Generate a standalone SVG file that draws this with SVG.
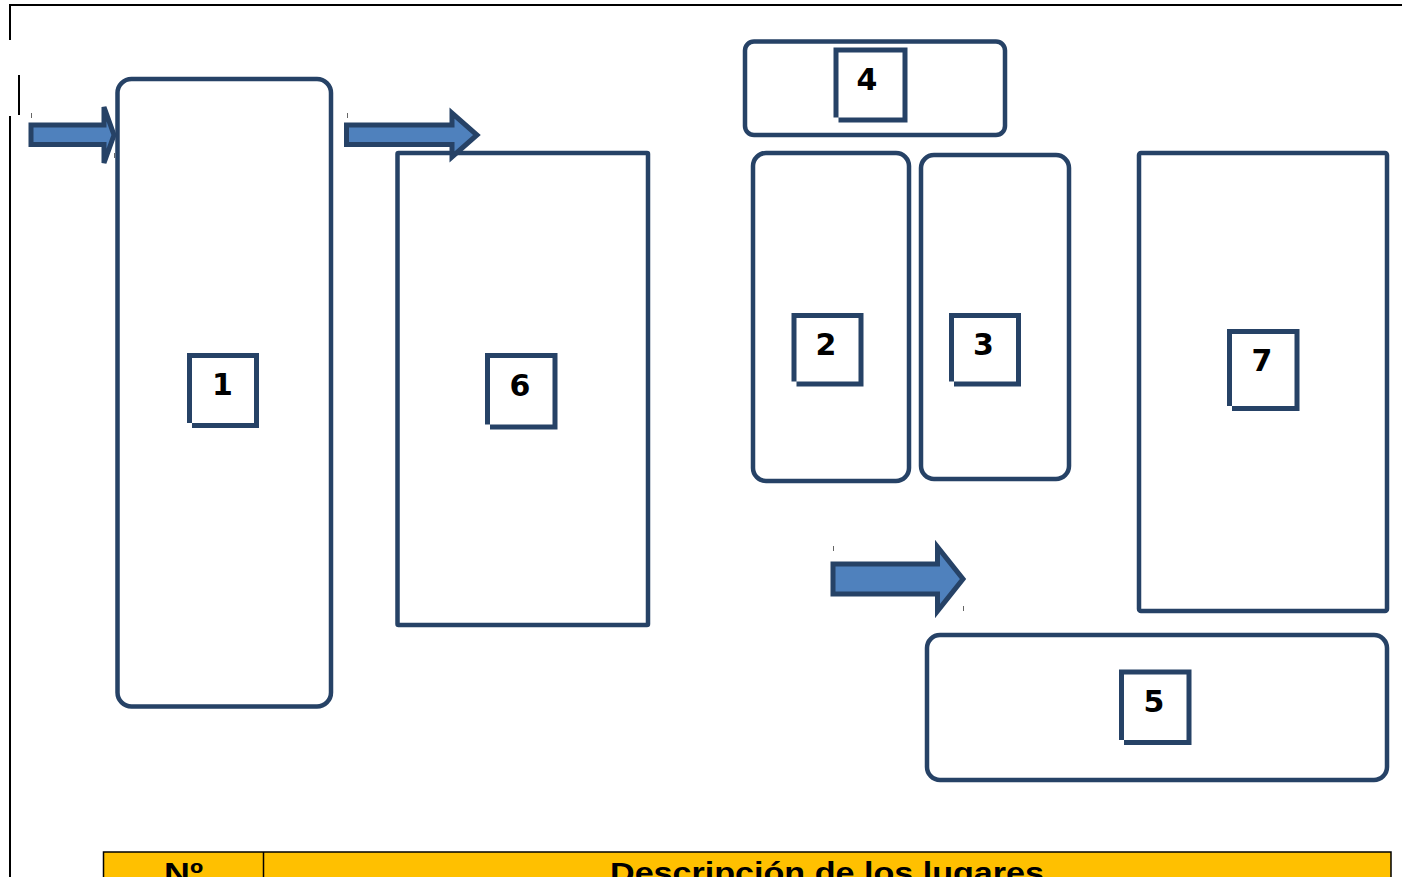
<svg xmlns="http://www.w3.org/2000/svg" width="1402" height="877" viewBox="0 0 1402 877">
<style>
.box{fill:#fff;stroke:#264266;stroke-width:4.5}
.num{fill:none;stroke:#264266;stroke-width:5;stroke-linejoin:miter;stroke-linecap:butt}
.lbl{font-family:"DejaVu Sans",sans-serif;font-weight:bold;font-size:30px;fill:#000;text-anchor:middle}
.arr{fill:#4F81BD;stroke:#264266;stroke-width:5;stroke-linejoin:miter}
.frame{stroke:#000;stroke-width:2;fill:none}
.tick{stroke:#666;stroke-width:1}
.th{font-family:"Liberation Sans",Arial,sans-serif;font-weight:bold;font-size:29px;fill:#000;text-anchor:middle}
</style>
<rect width="1402" height="877" fill="#fff"/>
<g id="frame">
<path class="frame" d="M9,5 H1402 M10,4 V40 M19,75 V115 M10,116 V877"/>
</g>
<g id="ticks">
<path class="tick" d="M31.5,113 V118 M347.5,113 V118 M114.5,153 V158 M477.5,154 V158 M833.5,546 V551 M963.5,606 V611"/>
</g>
<g id="node1">
<rect class="box" x="117.5" y="79" width="213.5" height="627.5" rx="14"/>
<path class="num" d="M189.5,423 V355.5 H256.5 V425.5 H192"/>
<text class="lbl" x="222.5" y="395">1</text>
</g>
<g id="node6">
<rect class="box" x="397.5" y="153" width="250.5" height="472" rx="1"/>
<path class="num" d="M487.5,424.5 V355.5 H555 V427 H490"/>
<text class="lbl" x="520" y="395.5">6</text>
</g>
<g id="node4">
<rect class="box" x="745" y="41.5" width="260" height="93.5" rx="9"/>
<path class="num" d="M836,117.5 V50 H905 V120 H838.5"/>
<text class="lbl" x="867" y="90">4</text>
</g>
<g id="node2">
<rect class="box" x="753" y="153" width="156" height="328" rx="13"/>
<path class="num" d="M794,381.5 V315.5 H861 V384 H796.5"/>
<text class="lbl" x="826" y="355">2</text>
</g>
<g id="node3">
<rect class="box" x="921" y="155" width="148" height="324" rx="13"/>
<path class="num" d="M951.5,381.5 V315.5 H1018.5 V384 H954"/>
<text class="lbl" x="983.5" y="355">3</text>
</g>
<g id="node7">
<rect class="box" x="1139" y="153" width="248" height="458" rx="2"/>
<path class="num" d="M1229.5,406 V331.5 H1297 V408.5 H1232"/>
<text class="lbl" x="1262" y="371">7</text>
</g>
<g id="node5">
<rect class="box" x="927" y="635" width="460" height="145" rx="13"/>
<path class="num" d="M1121.5,740 V672 H1189 V742.5 H1124"/>
<text class="lbl" x="1154" y="712">5</text>
</g>
<g id="connectors">
<path class="arr" d="M31,125 H104 V107 L114,135 L104,163 V144.5 H31 Z"/>
<path class="arr" d="M346.5,125 H452 V113 L477,135 L452,157 V144.5 H346.5 Z"/>
<path class="arr" d="M833,564 H937.5 V547 L963,579 L937.5,611 V594 H833 Z"/>
</g>
<g id="table">
<rect x="103.5" y="852" width="1287.5" height="30" fill="#FFC000" stroke="#000" stroke-width="1.5"/>
<line x1="263.5" y1="852" x2="263.5" y2="877" stroke="#000" stroke-width="1.5"/>
<text class="th" x="183.5" y="883" textLength="39" lengthAdjust="spacingAndGlyphs">Nº</text>
<text class="th" x="827" y="883" textLength="434" lengthAdjust="spacingAndGlyphs">Descripción de los lugares</text>
</g>
</svg>
